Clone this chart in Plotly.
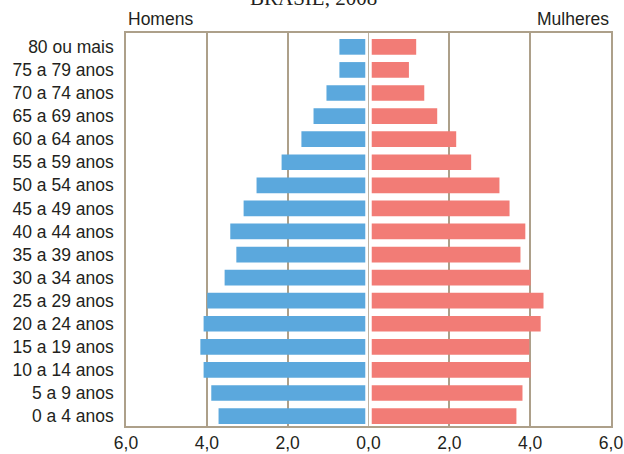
import plotly.graph_objects as go

# Faixas etárias (de baixo para cima) e percentuais da população
faixas = [
    "0 a 4 anos", "5 a 9 anos", "10 a 14 anos", "15 a 19 anos",
    "20 a 24 anos", "25 a 29 anos", "30 a 34 anos", "35 a 39 anos",
    "40 a 44 anos", "45 a 49 anos", "50 a 54 anos", "55 a 59 anos",
    "60 a 64 anos", "65 a 69 anos", "70 a 74 anos", "75 a 79 anos",
    "80 ou mais",
]
homens = [3.71, 3.89, 4.08, 4.16, 4.08, 3.99, 3.56, 3.27, 3.42, 3.09,
          2.77, 2.15, 1.66, 1.36, 1.04, 0.72, 0.72]
mulheres = [3.66, 3.81, 4.01, 3.98, 4.26, 4.33, 4.01, 3.76, 3.88, 3.49,
            3.24, 2.54, 2.17, 1.70, 1.38, 1.00, 1.18]

tick_vals = [-6, -4, -2, 0, 2, 4, 6]
tick_text = ["6,0", "4,0", "2,0", "0,0", "2,0", "4,0", "6,0"]

GAP = 0.08          # small white space on each side of the centre line
FRAME = "#ada08a"
TEXT = "#231f20"
FONT = "Liberation Sans, Arial, sans-serif"

fig = go.Figure()
# Homens: bar runs from -valor up to just left of zero
fig.add_trace(go.Bar(
    y=faixas, base=[-v for v in homens], x=[v - GAP for v in homens],
    orientation="h", marker=dict(color="#5ba8dd", line=dict(width=0)),
    name="Homens", showlegend=False,
))
# Mulheres: bar runs from just right of zero to +valor
fig.add_trace(go.Bar(
    y=faixas, base=[GAP] * len(mulheres), x=[v - GAP for v in mulheres],
    orientation="h", marker=dict(color="#f27c76", line=dict(width=0)),
    name="Mulheres", showlegend=False,
))

fig.update_layout(
    width=624, height=454,
    margin=dict(l=126, r=13, t=33, b=28),
    paper_bgcolor="white", plot_bgcolor="white",
    barmode="overlay", bargap=0.32,
    font=dict(family=FONT, size=17.5, color=TEXT),
    xaxis=dict(
        range=[-6, 6], tickvals=tick_vals, ticktext=tick_text,
        showgrid=True, gridcolor=FRAME, gridwidth=1.5,
        zeroline=True, zerolinecolor="#bdb3a3", zerolinewidth=1,
        showline=True, linecolor=FRAME, linewidth=1.5, mirror=True,
        ticks="", ticklabelstandoff=0, automargin=False,
        tickfont=dict(family=FONT, size=17.5, color=TEXT),
    ),
    yaxis=dict(
        range=[-0.43, 16.6], type="category",
        showgrid=False, zeroline=False,
        showline=True, linecolor=FRAME, linewidth=1.5, mirror=True,
        ticks="", ticklabelstandoff=7, automargin=False,
        tickfont=dict(family=FONT, size=17.5, color=TEXT),
    ),
    annotations=[
        dict(text="Homens", xref="paper", yref="paper", x=0, y=1,
             xanchor="left", yanchor="bottom", yshift=2, showarrow=False,
             font=dict(family=FONT, size=17.5, color=TEXT)),
        dict(text="Mulheres", xref="paper", yref="paper", x=1, y=1,
             xanchor="right", yanchor="bottom", yshift=2, showarrow=False,
             font=dict(family=FONT, size=17.5, color=TEXT)),
        dict(text="BRASIL, 2008", xref="paper", yref="paper", x=0.386, y=1,
             xanchor="center", yanchor="bottom", yshift=21, showarrow=False,
             font=dict(family="Liberation Serif, Times New Roman, serif",
                       size=21, color=TEXT)),
    ],
)

fig.write_html("out.html")
